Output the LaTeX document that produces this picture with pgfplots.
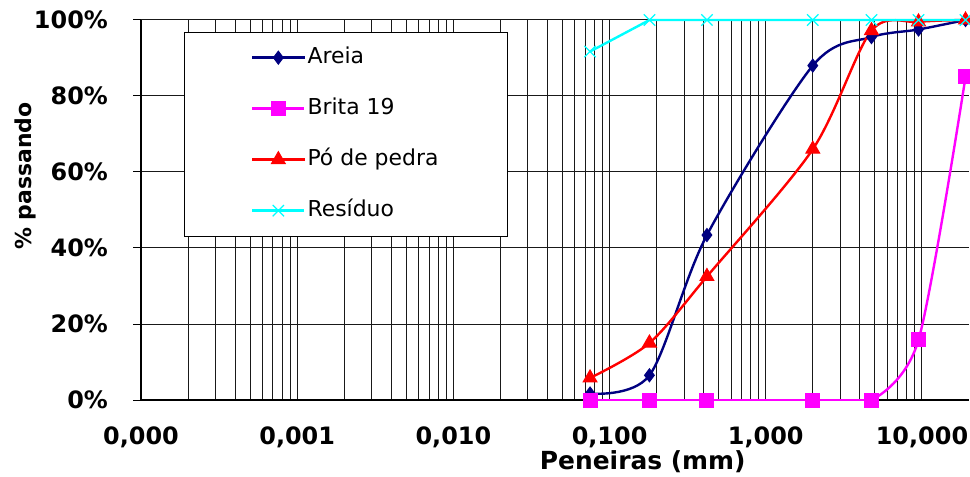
\documentclass[border=0pt]{standalone}
\usepackage{fontspec}
\setmainfont{DejaVu Sans}
\usepackage{pgfplots}
\pgfplotsset{compat=1.18}
\definecolor{areia}{RGB}{0,0,128}
\definecolor{brita}{RGB}{255,0,255}
\definecolor{po}{RGB}{255,0,0}
\definecolor{res}{RGB}{0,255,255}
\begin{document}
\begin{tikzpicture}
\useasboundingbox (-141bp,-77bp) rectangle (829bp,400bp);
\begin{axis}[
  at={(0,0)}, anchor=south west,
  scale only axis, width=828bp, height=380bp,
  xmode=log, xmin=1e-4, xmax=20, ymin=0, ymax=100,
  axis x line=bottom, axis y line=left,
  axis line style={-, black, line width=1.2bp},
  xtick={1e-4,1e-3,1e-2,1e-1,1,10},
  xticklabels={{0,000},{0,001},{0,010},{0,100},{1,000},{10,000}},
  minor xtick={2e-4,3e-4,4e-4,5e-4,6e-4,7e-4,8e-4,9e-4,
    0.002,0.003,0.004,0.005,0.006,0.007,0.008,0.009,
    0.02,0.03,0.04,0.05,0.06,0.07,0.08,0.09,
    0.2,0.3,0.4,0.5,0.6,0.7,0.8,0.9,
    2,3,4,5,6,7,8,9},
  xmajorgrids, xminorgrids, ymajorgrids,
  major grid style={black!90, line width=1bp},
  minor grid style={black!90, line width=1bp},
  xtick style={draw=none},
  ytick={0,20,40,60,80,100},
  yticklabels={0\%,20\%,40\%,60\%,80\%,100\%},
  tick align=outside, major tick length=8bp,
  ytick style={black, line width=1bp},
  tick label style={font=\fontsize{24}{28}\selectfont\bfseries},
  yticklabel style={anchor=east, inner sep=0pt, xshift=-25bp},
  xticklabel style={anchor=north, inner sep=0pt, yshift=-19bp},
  xlabel={Peneiras (mm)}, ylabel={\% passando},
  xlabel style={at={(axis description cs:0.606,-0.163)}, anchor=center, font=\fontsize{25}{30}\selectfont\bfseries},
  ylabel style={at={(axis description cs:-0.140,0.589)}, anchor=center, font=\fontsize{22}{26}\selectfont\bfseries},
  clip=false,
  legend cell align=left,
  legend style={at={(axis description cs:0.052,0.969)}, anchor=north west,
    draw=black, line width=0.8bp, fill=white,
    inner xsep=66.7bp, inner ysep=13bp, row sep=26bp,
    font=\fontsize{22}{26}\selectfont,
    nodes={inner sep=2bp, text height=16bp, text depth=5bp}},
  legend image code/.code={\draw[mark repeat=2,mark phase=2] plot coordinates {(0bp,0bp) (26bp,0bp) (52bp,0bp)};},
]
\addplot[color=areia, line width=2.4bp, smooth, mark=diamond*, mark size=6.5bp, mark options={solid, line width=1bp}]
  coordinates {(0.075,1.7) (0.18,6.5) (0.42,43.4) (2.0,88) (4.75,95.5) (9.5,97.5) (19,100)};
\addlegendentry{Areia}
\addplot[color=brita, line width=2.4bp, mark=square*, mark size=7bp, mark options={solid, line width=1bp}]
  coordinates {(0.075,0) (0.18,0) (0.42,0) (2.0,0) (4.75,0)};
\addlegendentry{Brita 19}
\addplot[color=brita, line width=2.4bp, smooth, mark=square*, mark size=7bp, mark options={solid, line width=1bp}, forget plot]
  coordinates {(4.75,0) (9.5,15.8) (19,85)};
\addplot[color=po, line width=2.4bp, smooth, mark=triangle*, mark size=8bp, mark options={solid, line width=1bp}]
  coordinates {(0.075,5.8) (0.18,15) (0.42,32.5) (2.0,66) (4.75,97.2) (9.5,99.5) (19,100)};
\addlegendentry{Pó de pedra}
\addplot[color=res, line width=2.4bp, mark=x, mark size=8bp, mark options={solid, line width=1.2bp}]
  coordinates {(0.075,91.7) (0.18,100) (0.42,100) (2.0,100) (4.75,100) (9.5,100) (19,100)};
\addlegendentry{Resíduo}
\end{axis}
\end{tikzpicture}
\end{document}
